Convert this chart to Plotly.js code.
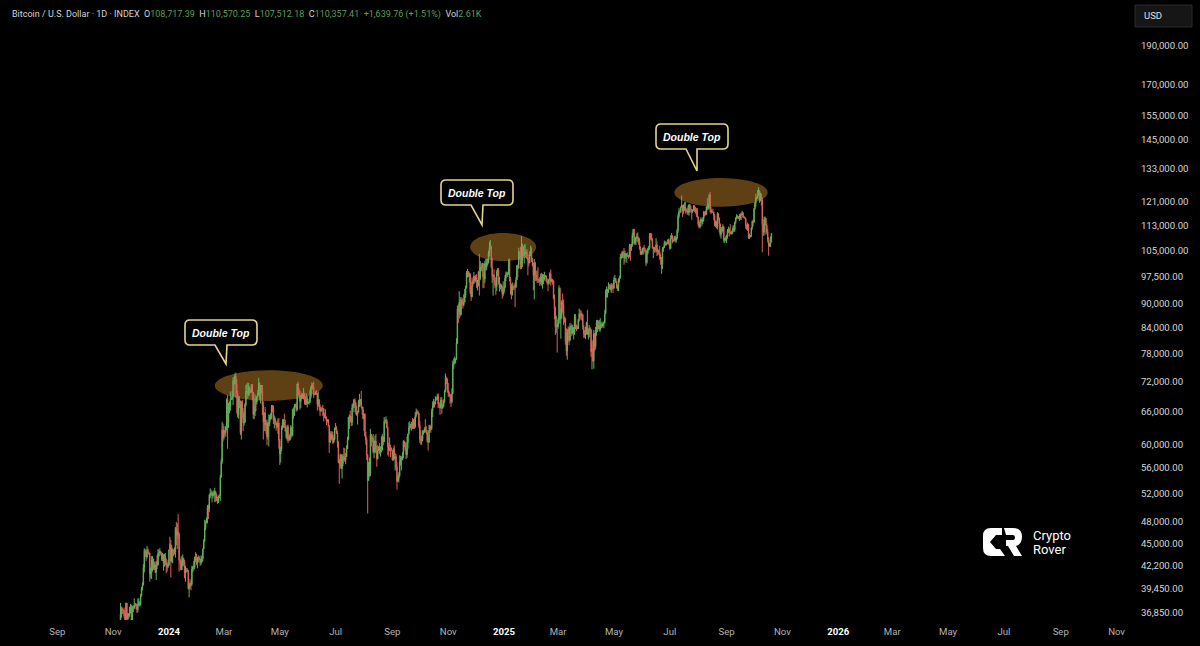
<!DOCTYPE html>
<html>
<head>
<meta charset="utf-8">
<script src="https://cdn.plot.ly/plotly-3.0.1.min.js"></script>
<style>html,body{margin:0;padding:0;background:#000;}#chart{width:1200px;height:646px;}</style>
</head>
<body>
<div id="chart"></div>
<script>
// ---------------- DATA (USD thousands, daily candles, first day 2023-11-08) ----------------
const startDate = '2023-11-08';
const firstOpen = 35.4;
const close = [
// Nov 2023 (8-30)
35.6,36.7,37.3,37.1,37.1,36.5,35.6,37.9,36.2,36.6,36.6,37.4,37.5,35.8,37.4,37.3,37.7,37.8,37.5,37.2,37.8,37.9,37.7,
// Dec 2023
38.7,39.5,39.9,42.0,44.1,43.8,43.3,44.2,43.8,43.8,41.2,41.5,42.9,43.0,41.9,42.3,41.4,42.7,42.3,43.7,43.9,44.0,43.7,43.0,43.6,42.5,43.4,42.6,42.1,42.1,42.3,
// Jan 2024
44.2,44.9,42.8,44.2,44.2,44.0,43.9,47.0,46.1,46.6,46.3,42.9,42.8,41.7,42.5,43.1,42.7,41.3,41.6,41.7,41.6,39.5,39.8,40.1,40.0,41.8,42.1,42.0,43.3,42.9,42.6,
// Feb 2024
43.1,43.2,43.0,42.6,42.7,43.1,44.3,45.3,47.1,47.8,48.3,50.0,49.7,51.8,51.9,52.1,51.7,52.1,51.8,52.3,51.9,51.3,50.7,51.6,51.7,54.5,57.1,62.5,61.2,
// Mar 2024
62.4,62.0,63.1,68.3,63.8,66.1,66.9,68.3,68.5,69.0,72.1,71.5,73.1,71.4,69.5,65.3,68.4,67.6,62.0,67.8,65.5,63.8,64.0,67.2,69.9,69.9,69.5,70.8,70.0,69.7,71.3,
// Apr 2024
69.7,65.4,65.9,68.5,67.8,68.9,69.4,71.6,69.1,70.6,70.0,67.1,64.0,65.7,63.4,63.8,61.3,63.5,63.8,64.9,64.9,66.8,66.4,64.3,64.5,63.8,63.4,63.1,63.8,60.6,
// May 2024
58.3,59.1,62.9,63.9,64.0,63.2,62.3,61.2,63.1,60.8,60.8,61.5,62.9,61.6,66.3,65.2,67.0,67.0,66.3,71.4,70.1,69.1,67.9,68.5,69.3,68.5,69.4,68.3,67.6,68.4,67.5,
// Jun 2024
67.8,67.8,68.8,70.6,71.1,70.8,69.3,69.3,69.6,69.5,67.3,68.2,66.8,66.0,66.2,66.6,66.5,65.2,64.9,64.9,64.1,64.3,63.2,60.3,61.8,60.9,61.6,60.3,60.9,62.7,
// Jul 2024
62.9,62.0,60.2,57.0,56.7,58.2,55.9,56.7,57.9,57.7,57.3,57.9,59.2,60.8,64.8,65.1,64.1,63.9,66.7,67.2,68.2,67.6,65.9,65.4,65.8,67.9,68.0,68.3,66.8,66.2,64.6,
// Aug 2024
65.4,61.5,60.7,58.1,54.0,56.0,55.0,61.7,60.9,61.0,58.7,59.4,60.6,58.7,57.5,58.9,59.5,58.4,59.5,59.0,61.2,60.4,64.1,64.2,64.2,62.9,59.5,59.0,59.4,59.1,58.9,
// Sep 2024
57.3,59.1,57.5,57.9,56.2,53.9,54.2,54.8,57.0,57.6,57.3,58.1,60.5,60.0,59.1,58.2,60.3,61.8,62.9,63.2,63.3,63.6,63.3,64.3,63.1,65.2,65.9,65.8,65.6,63.3,
// Oct 2024
60.8,60.6,60.8,62.1,62.1,62.8,62.2,62.1,60.6,60.3,62.4,63.2,62.8,66.0,67.0,67.6,67.4,68.4,68.4,69.0,67.4,67.4,66.7,68.2,66.6,67.0,67.9,69.9,72.7,72.3,70.2,
// Nov 2024
69.5,69.3,68.7,67.8,69.4,75.6,75.9,76.5,76.7,80.4,88.7,87.9,90.5,87.3,91.1,90.6,89.8,90.5,92.3,94.3,98.4,98.9,97.7,98.0,93.0,91.9,95.9,95.6,97.5,96.4,
// Dec 2024
97.2,95.9,96.0,98.8,97.0,99.9,99.9,101.2,97.4,96.7,101.2,100.0,101.4,101.4,104.3,106.0,106.1,100.0,97.5,97.8,97.2,95.1,94.7,98.7,99.4,95.8,94.2,95.2,93.6,92.6,93.4,
// Jan 2025
94.4,96.9,98.1,98.2,98.3,102.1,96.9,95.0,92.5,94.7,94.6,94.5,94.5,96.5,100.5,99.8,104.5,104.4,101.1,102.0,106.1,103.7,104.0,104.8,104.7,102.6,102.1,101.3,103.7,104.7,102.4,
// Feb 2025
100.6,97.7,101.4,97.9,96.6,96.6,96.5,96.5,96.1,97.4,95.7,97.9,96.6,97.5,97.6,96.1,95.8,95.5,96.6,98.3,96.1,96.6,96.3,91.5,88.7,84.3,84.7,84.4,
// Mar 2025
86.0,94.2,86.1,87.2,90.6,89.9,86.7,86.2,80.7,78.5,82.9,83.7,81.1,84.0,84.3,82.6,84.1,82.7,86.8,84.2,84.0,83.8,86.1,87.5,87.4,86.9,87.2,84.3,82.6,82.3,82.5,
// Apr 2025
85.2,82.5,83.1,83.8,83.5,78.4,79.1,76.3,82.6,79.6,83.4,85.3,83.7,84.5,83.7,84.0,84.9,84.4,85.1,85.2,87.5,93.4,93.7,93.9,94.7,94.6,93.8,95.0,94.3,94.2,
// May 2025
96.5,96.9,95.9,94.3,94.7,96.8,97.0,103.2,102.9,104.6,104.1,102.8,104.2,103.5,103.7,103.5,103.1,106.5,105.6,106.8,109.6,111.7,107.3,107.8,109.0,109.4,108.9,107.8,105.6,103.9,104.6,
// Jun 2025
105.7,105.9,105.4,104.7,101.5,104.3,105.6,105.8,110.3,110.2,108.6,105.9,106.0,105.4,105.6,106.8,104.6,104.9,104.6,103.3,102.1,100.9,105.5,106.0,107.3,106.9,107.1,107.3,108.4,107.1,
// Jul 2025
105.7,108.8,109.6,108.0,108.2,109.2,108.3,108.9,111.3,115.9,117.5,117.4,119.1,119.8,117.7,118.7,119.3,117.9,117.9,117.3,117.4,119.9,118.5,118.3,117.6,117.9,119.4,118.0,117.9,117.8,115.7,
// Aug 2025
113.3,112.5,114.2,115.0,114.1,115.0,117.5,116.7,116.5,119.3,118.7,120.1,123.3,118.4,117.4,117.5,117.4,116.2,112.9,114.3,112.5,116.9,115.4,113.5,110.1,111.8,111.3,112.6,108.4,108.8,108.2,
// Sep 2025
109.3,111.2,111.7,110.7,110.7,110.2,111.2,112.1,111.5,113.9,115.5,116.1,115.9,115.3,115.4,116.8,116.5,117.1,115.7,115.7,115.3,112.7,112.0,113.3,109.0,109.6,109.6,112.2,114.4,114.0,
// Oct 2025 (1-20)
118.6,120.6,122.3,122.4,123.5,124.8,121.4,123.3,121.7,113.2,110.7,115.0,115.3,113.0,110.8,108.2,106.4,107.2,108.71739,110.35741
];
const high = [
35.9,37.9,37.5,37.4,37.2,37.4,36.8,37.9,37.9,36.8,36.8,37.5,37.8,37.7,37.6,37.6,38.4,37.9,37.8,37.6,38.4,38.4,38.1,
38.9,39.7,40.2,42.4,44.4,44.3,44.0,44.7,44.4,44.0,43.8,42.0,43.4,43.4,43.1,42.7,42.4,42.8,43.5,44.3,44.2,44.4,44.0,43.9,43.8,43.6,43.7,43.8,43.1,42.6,42.9,
44.2,45.9,45.5,44.8,44.4,44.2,44.5,47.2,47.9,47.7,49.0,46.5,43.3,43.0,43.4,43.6,43.2,42.9,42.2,41.9,41.9,41.7,40.2,40.6,40.3,42.2,42.2,42.8,43.3,43.9,43.7,
43.3,43.5,43.4,43.1,43.5,43.4,44.4,45.6,48.2,48.1,48.5,50.3,50.4,52.0,52.8,52.6,52.2,52.4,52.5,52.9,52.4,52.0,51.5,51.7,51.9,54.9,57.5,64.0,63.7,
63.2,62.4,63.2,68.5,69.2,67.6,67.9,69.9,68.6,70.0,72.8,72.9,73.6,73.8,72.4,70.0,68.9,68.9,68.1,68.0,68.2,66.6,65.9,67.6,71.2,71.5,71.7,71.6,70.9,70.3,71.4,
71.3,69.7,66.9,69.3,68.7,69.0,70.2,72.7,71.7,71.2,71.2,71.2,67.9,65.8,66.8,64.4,64.4,64.0,65.4,65.3,65.6,67.2,67.2,67.1,65.2,64.8,63.9,64.2,64.6,64.7,
60.9,59.6,63.3,64.5,64.5,65.5,64.4,62.6,63.4,63.5,61.5,61.8,63.4,63.1,66.5,66.7,67.4,67.4,67.7,71.5,71.9,70.6,70.0,69.2,69.6,69.5,70.6,69.6,68.9,69.5,69.0,
67.8,68.4,70.2,71.0,71.7,71.6,71.9,69.5,69.9,70.2,69.6,69.9,68.4,67.3,66.4,66.9,67.2,66.6,65.7,66.4,65.0,64.5,64.5,63.4,62.3,62.2,62.3,62.2,61.2,63.0,
63.8,63.2,62.3,60.5,57.5,58.4,58.3,58.2,58.3,59.4,59.3,58.5,59.8,61.3,64.9,65.4,66.1,65.0,67.4,67.6,68.4,68.5,67.8,67.1,66.1,68.2,69.4,68.3,70.0,66.9,66.8,
65.6,65.6,62.2,61.1,58.3,57.0,57.7,62.7,61.8,61.4,61.8,60.6,61.5,61.8,59.8,59.8,59.6,60.2,59.6,61.4,61.8,61.4,64.9,64.5,65.0,64.5,63.2,60.2,61.2,59.9,59.4,
58.9,59.4,59.8,58.5,58.3,56.9,54.8,55.3,58.1,58.0,57.9,58.6,60.7,60.6,60.4,59.2,61.3,61.8,63.9,64.1,63.6,64.0,64.7,64.5,64.8,65.8,66.5,66.3,66.1,65.6,
64.1,62.4,61.5,62.5,62.4,63.0,64.5,63.2,62.5,61.3,63.4,63.5,63.3,66.5,67.9,68.4,67.9,68.9,68.7,69.4,69.5,67.8,67.5,68.8,68.7,67.5,68.3,70.2,73.6,72.9,72.6,
71.6,69.9,69.4,69.0,70.5,76.4,76.9,77.3,76.9,81.5,89.6,89.9,93.4,91.8,91.8,91.4,91.6,92.6,94.0,94.9,99.0,99.6,98.8,98.6,98.4,94.7,97.2,96.6,98.7,97.5,
97.9,98.1,96.5,99.0,104.0,101.9,100.5,101.4,101.3,98.3,101.9,102.5,102.6,102.6,105.0,107.8,108.3,106.5,102.8,98.1,99.5,97.3,96.4,99.4,99.9,99.9,97.3,95.5,95.2,94.9,96.1,
94.9,97.8,98.9,98.7,98.8,102.5,102.7,97.3,95.4,95.8,94.9,95.4,95.8,97.4,100.7,100.9,105.9,104.9,106.3,109.6,107.2,106.4,106.8,107.1,105.3,105.5,103.2,103.8,104.8,106.5,106.0,
102.8,101.5,102.5,101.7,99.0,99.2,100.1,96.9,97.3,98.3,98.5,98.1,98.1,98.8,97.9,97.7,97.0,96.7,96.8,98.7,99.5,96.9,96.6,96.4,92.5,89.3,87.0,85.1,
86.5,95.0,94.4,88.9,91.0,92.8,91.2,86.8,86.5,83.9,83.6,84.3,84.3,85.2,84.7,85.0,84.7,84.1,87.4,87.4,84.8,84.5,86.2,88.8,88.5,88.3,87.8,87.5,84.6,83.5,84.3,
85.5,88.5,83.9,84.7,84.2,83.8,81.2,80.8,83.5,82.7,84.2,85.9,86.0,85.8,85.9,86.4,85.5,85.1,85.6,85.4,88.5,93.9,94.7,94.0,95.8,95.3,95.3,95.6,95.5,95.2,
97.4,97.9,96.9,96.2,95.2,96.9,97.7,104.0,104.3,104.9,105.0,105.8,105.0,104.3,104.2,104.5,103.7,107.1,107.0,107.1,110.6,111.9,111.8,109.4,109.2,110.4,110.7,109.3,108.9,106.3,104.9,
105.9,105.9,106.8,105.9,105.1,105.3,105.9,106.5,110.5,110.4,110.4,108.8,106.2,106.2,106.0,108.9,107.8,105.6,105.2,106.5,104.0,103.1,106.1,106.3,108.1,108.0,107.8,107.6,108.5,108.8,
107.6,109.8,110.5,109.8,108.4,109.5,109.7,109.2,111.9,116.8,118.9,118.2,119.4,123.2,119.8,120.0,120.8,120.9,118.6,118.9,119.7,120.2,120.1,119.5,118.4,118.3,119.8,119.8,119.2,118.8,118.9,
116.0,114.0,114.8,115.7,115.1,115.7,117.7,117.6,117.9,119.3,122.3,120.3,123.7,124.5,119.2,117.9,118.6,117.6,116.8,114.6,114.5,117.4,117.0,115.6,113.6,112.4,112.6,113.4,112.7,108.9,109.5,
109.9,111.8,112.6,112.2,113.4,110.9,111.4,112.9,113.2,114.3,115.6,116.7,116.3,116.1,116.7,116.9,117.3,117.9,117.4,116.1,115.8,115.4,113.3,113.9,113.4,110.3,109.8,112.3,114.5,114.9,
118.7,121.0,123.9,122.9,125.2,126.2,125.1,124.2,123.8,122.5,113.4,115.8,116.0,115.4,113.6,111.9,109.2,107.4,109.4,110.57025
];
const low = [
35.1,35.5,36.3,36.7,36.7,36.3,34.8,35.4,35.9,35.6,36.2,36.4,36.8,35.6,35.7,36.9,37.3,37.6,37.2,36.8,36.9,37.6,37.5,
37.6,38.6,39.3,39.9,41.4,43.3,42.8,43.1,43.6,43.6,40.3,40.7,40.6,41.5,41.7,41.7,41.3,40.5,41.8,42.2,43.3,43.4,43.6,42.8,42.8,41.6,42.1,42.3,41.3,41.5,41.9,
42.2,44.2,40.8,42.6,42.5,43.4,43.6,43.2,44.8,44.3,45.6,41.5,42.4,41.7,41.7,42.1,42.2,40.7,40.3,41.4,41.5,39.4,38.5,39.5,39.3,39.8,41.4,41.6,41.8,42.7,42.3,
41.9,42.6,42.9,42.2,42.3,42.6,42.8,44.3,45.3,46.8,47.7,47.7,48.3,49.3,51.3,51.6,50.7,51.3,51.6,50.7,50.8,50.9,50.5,50.6,51.3,50.9,54.5,56.7,60.4,
60.8,61.7,61.3,62.4,59.2,62.9,65.6,66.1,68.2,68.2,67.2,68.8,71.3,68.6,65.6,64.8,64.6,66.6,61.6,60.8,64.6,62.3,63.3,63.8,66.9,69.2,68.4,68.9,69.1,69.6,69.6,
68.1,64.6,64.5,65.1,66.0,67.3,68.8,69.1,68.2,67.5,69.6,65.3,60.8,62.3,62.3,61.8,59.8,60.8,59.6,63.2,64.3,64.5,65.8,63.6,62.8,63.4,62.4,62.8,61.8,59.2,
56.5,56.9,58.8,62.6,62.9,62.9,62.2,60.9,60.6,60.2,60.5,60.6,60.8,61.2,61.4,64.6,65.1,66.7,65.9,66.1,69.2,68.9,66.3,66.6,68.5,68.4,68.3,67.3,67.2,67.2,66.7,
67.4,67.3,67.6,68.5,70.4,70.2,68.6,69.1,69.2,69.2,66.1,66.9,66.3,65.1,65.9,66.0,65.1,64.1,64.7,64.5,63.4,63.9,63.2,58.5,60.3,60.7,60.6,60.0,60.4,60.7,
62.5,61.8,59.4,56.8,53.5,56.1,55.8,54.3,56.3,57.2,57.0,56.6,57.8,59.4,60.7,62.7,63.9,63.2,63.3,66.6,65.8,66.6,65.4,65.1,63.5,65.8,66.8,67.1,66.6,65.3,64.5,
62.3,61.3,59.9,57.3,49.1,54.0,54.6,54.7,59.6,60.4,58.4,57.6,58.5,58.4,56.2,57.4,58.8,58.4,57.9,58.6,58.9,59.8,60.4,63.6,63.8,62.8,58.1,57.9,58.8,57.8,58.8,
57.2,57.2,57.4,55.6,55.7,52.6,53.8,53.7,54.6,56.4,55.6,57.3,57.6,59.5,58.7,57.5,57.7,59.2,61.6,62.4,62.8,62.4,62.7,62.7,62.7,62.9,64.8,65.4,65.4,62.9,
60.2,59.9,59.9,60.5,61.7,62.0,62.1,61.8,60.3,58.9,60.3,62.4,62.0,62.5,64.9,66.7,66.7,67.3,68.1,68.1,66.6,66.6,65.3,66.5,65.5,66.5,66.8,67.6,69.7,71.4,69.7,
68.8,68.9,67.5,66.8,67.5,69.4,74.6,75.6,75.8,76.5,80.2,85.2,86.3,86.7,87.1,90.1,88.8,89.4,90.9,91.6,94.1,97.2,97.3,95.8,92.6,90.8,91.8,94.7,95.4,96.2,
95.8,94.3,93.6,94.7,92.2,96.4,99.0,98.8,94.2,94.3,95.7,99.3,99.2,100.6,101.2,103.3,105.3,100.0,95.7,92.2,96.4,94.2,92.4,93.4,97.6,95.2,93.3,94.0,93.3,91.4,92.0,
92.8,94.2,96.2,97.8,97.3,97.9,96.1,92.5,91.2,92.2,93.8,93.7,89.2,94.3,96.5,97.3,99.9,102.3,99.5,99.6,100.1,103.3,101.2,102.8,104.1,102.5,97.8,100.3,101.3,103.3,101.6,
100.3,93.7,91.2,96.2,96.2,95.7,95.7,95.7,94.8,95.3,94.9,94.1,95.3,96.3,97.1,96.0,95.2,93.4,95.2,96.4,94.9,95.8,95.2,91.2,86.1,82.3,82.8,78.2,
83.8,85.0,85.1,81.4,86.3,87.8,84.7,85.3,80.0,77.5,76.6,80.7,79.9,80.8,83.6,82.0,82.5,81.2,82.3,83.7,83.2,83.6,83.8,85.5,86.3,85.9,85.8,83.6,81.6,81.6,81.3,
82.4,82.3,81.2,81.7,82.4,77.2,74.5,76.2,74.6,78.5,78.9,82.1,83.0,83.7,83.1,83.1,83.9,84.0,84.4,83.9,85.1,87.4,91.7,91.7,92.9,93.9,93.6,92.9,93.8,92.9,
94.1,96.3,95.7,94.1,93.5,93.4,95.8,96.9,102.4,102.8,103.4,100.8,101.5,102.6,101.4,103.1,102.6,103.1,102.0,104.9,106.2,109.3,106.8,106.9,106.7,108.6,107.6,106.8,105.3,103.7,103.7,
103.9,103.8,105.0,104.2,100.4,101.1,103.9,105.0,105.3,108.4,108.1,105.6,102.8,104.3,104.5,104.9,103.4,103.6,103.9,102.3,100.8,98.2,99.6,104.7,105.9,106.6,106.5,106.9,107.2,106.7,
105.3,105.6,108.6,107.3,107.8,107.9,107.5,107.5,108.4,110.6,115.3,116.9,117.3,118.9,115.8,116.9,117.9,116.9,117.3,116.5,116.5,116.2,117.3,117.2,114.8,117.1,117.8,117.5,116.9,115.8,115.5,
112.7,112.1,112.0,114.1,112.7,113.4,114.3,115.9,116.3,116.5,118.1,118.2,118.9,117.3,116.8,117.2,117.2,114.7,112.7,112.4,112.0,111.7,114.6,110.7,109.4,108.7,110.4,110.9,107.5,107.4,108.0,
107.3,108.8,110.5,109.4,110.2,110.0,110.1,110.8,110.8,110.9,113.5,114.9,115.3,115.1,114.4,114.8,114.8,116.3,115.5,115.4,115.1,111.9,111.5,111.2,108.7,108.6,109.1,109.2,111.6,112.7,
113.9,118.2,119.3,121.8,122.0,123.1,120.6,121.1,119.6,104.5,109.6,109.7,113.0,110.0,110.2,107.5,103.5,106.3,106.1,107.51218
];

// Axis tick labels
const priceTicks = [36850, 39450, 42200, 45000, 48000, 52000, 56000, 60000, 66000, 72000, 78000, 84000,
                    90000, 97500, 105000, 113000, 121000, 133000, 145000, 155000, 170000, 190000];
const dateTicks = ['2023-09-01','2023-11-01','2024-01-01','2024-03-01','2024-05-01','2024-07-01','2024-09-01',
                   '2024-11-01','2025-01-01','2025-03-01','2025-05-01','2025-07-01','2025-09-01','2025-11-01',
                   '2026-01-01','2026-03-01','2026-05-01','2026-07-01','2026-09-01','2026-11-01'];
const dateTickText = ['Sep','Nov','2024','Mar','May','Jul','Sep','Nov','2025','Mar','May','Jul','Sep','Nov',
                      '2026','Mar','May','Jul','Sep','Nov'];

// Header legend
const symbolTitle = 'Bitcoin / U.S. Dollar · 1D · INDEX';
const headerValues = {O:'108,717.39', H:'110,570.25', L:'107,512.18', C:'110,357.41', chg:'+1,639.76 (+1.51%)', Vol:'2.61K'};

// Double-top zones: [start date, end date, low price, high price]
const zones = [
  ['2024-02-20','2024-06-17', 68000, 74300],
  ['2024-11-25','2025-02-05', 101900, 110500],
  ['2025-07-06','2025-10-16', 119200, 129600]
];
const calloutLabel = 'Double Top';

// ---------------- BUILD ----------------
const UNIT = 1000;
const t0 = Date.UTC(2023, 10, 8);
const dates = close.map((_, i) => new Date(t0 + i * 86400000).toISOString().slice(0, 10));
const C = close.map(v => v * UNIT);
const H = high.map(v => v * UNIT);
const L = low.map(v => v * UNIT);
const O = C.map((v, i) => i === 0 ? firstOpen * UNIT : C[i - 1]);

const UP = '#62b25c', DN = '#dc6358';
const FONT = 'Roboto, "Liberation Sans", Arial, sans-serif';

const trace = {
  type: 'candlestick', x: dates, open: O, high: H, low: L, close: C,
  increasing: {line: {color: UP, width: 1}, fillcolor: UP},
  decreasing: {line: {color: DN, width: 1}, fillcolor: DN},
  whiskerwidth: 0, hoverinfo: 'skip', showlegend: false
};

// plot area geometry (pixels)
const W = 1200, Hh = 646, ML = 0, MR = 75, MT = 0, MB = 26;
const PW = W - ML - MR, PH = Hh - MT - MB;
const px = x => (x - ML) / PW;
const py = y => 1 - (y - MT) / PH;
const P = (x, y) => px(x).toFixed(5) + ',' + py(y).toFixed(5);

// Y axis log range (log10 of price) and date range
const yRange = [4.5572, 5.3362];
const xRange = ['2023-06-30 09:36', '2026-11-10 04:48'];
const xMs = xRange.map(s => Date.parse(s.replace(' ', 'T') + ':00Z'));
const dateToPx = d => (Date.parse(d + 'T00:00:00Z') - xMs[0]) / (xMs[1] - xMs[0]) * PW + ML;
const priceToPx = p => MT + (yRange[1] - Math.log10(p)) / (yRange[1] - yRange[0]) * PH;

function calloutPath(x0, y0, x1, y1, tx0, tx1, tipx, tipy) {
  const r = 5;
  return 'M' + P(x0 + r, y0) + ' L' + P(x1 - r, y0) + ' Q' + P(x1, y0) + ' ' + P(x1, y0 + r) +
    ' L' + P(x1, y1 - r) + ' Q' + P(x1, y1) + ' ' + P(x1 - r, y1) +
    ' L' + P(tx1, y1) + ' L' + P(tipx, tipy) + ' L' + P(tx0, y1) +
    ' L' + P(x0 + r, y1) + ' Q' + P(x0, y1) + ' ' + P(x0, y1 - r) +
    ' L' + P(x0, y0 + r) + ' Q' + P(x0, y0) + ' ' + P(x0 + r, y0) + ' Z';
}
function ellipsePath(cx, cy, rx, ry) {
  // four cubic bezier arcs
  const k = 0.5523;
  return 'M' + P(cx - rx, cy) +
    ' C' + P(cx - rx, cy - k * ry) + ' ' + P(cx - k * rx, cy - ry) + ' ' + P(cx, cy - ry) +
    ' C' + P(cx + k * rx, cy - ry) + ' ' + P(cx + rx, cy - k * ry) + ' ' + P(cx + rx, cy) +
    ' C' + P(cx + rx, cy + k * ry) + ' ' + P(cx + k * rx, cy + ry) + ' ' + P(cx, cy + ry) +
    ' C' + P(cx - k * rx, cy + ry) + ' ' + P(cx - rx, cy + k * ry) + ' ' + P(cx - rx, cy) + ' Z';
}
const callouts = [
  [185, 320, 257, 345, 215, 227, 226, 364],
  [441, 180, 513, 205, 471, 483, 482, 225],
  [656, 124, 728, 149, 686, 697, 697, 171]
];

const shapes = [];
zones.forEach(z => {
  const xa = dateToPx(z[0]), xb = dateToPx(z[1]);
  const ya = priceToPx(z[3]), yb = priceToPx(z[2]);
  shapes.push({
    type: 'path', xref: 'paper', yref: 'paper', layer: 'below',
    path: ellipsePath((xa + xb) / 2, (ya + yb) / 2, (xb - xa) / 2, (yb - ya) / 2),
    fillcolor: '#5e4014', line: {width: 0}
  });
});
callouts.forEach(c => shapes.push({
  type: 'path', xref: 'paper', yref: 'paper', path: calloutPath(...c),
  fillcolor: '#000000', line: {color: '#e4d48a', width: 1.6}
}));
// Crypto Rover logo mark
const logoC = 'M' + P(1002,528) + ' L' + P(991,528) + ' Q' + P(983,528) + ' ' + P(983,536) + ' L' + P(983,548) +
  ' Q' + P(983,556) + ' ' + P(991,556) + ' L' + P(1005,556) + ' L' + P(1000,549) + ' L' + P(996,549) +
  ' L' + P(990,542) + ' L' + P(996,535) + ' L' + P(1002,535) + ' Z';
const logoR = 'M' + P(1004,528) + ' L' + P(1013,528) + ' Q' + P(1022,528) + ' ' + P(1022,537) +
  ' Q' + P(1022,544) + ' ' + P(1016,546) + ' L' + P(1022,556) + ' L' + P(1014,556) + ' L' + P(1008,546) +
  ' L' + P(1006,546) + ' L' + P(1006,540) + ' L' + P(1013,540) + ' Q' + P(1015,540) + ' ' + P(1015,537.5) +
  ' Q' + P(1015,535) + ' ' + P(1013,535) + ' L' + P(1006,535) + ' Z';
shapes.push({type: 'path', xref: 'paper', yref: 'paper', path: logoC, fillcolor: '#ffffff', line: {width: 0}});
shapes.push({type: 'path', xref: 'paper', yref: 'paper', path: logoR, fillcolor: '#ffffff', line: {width: 0}});
// USD box
shapes.push({type: 'rect', xref: 'paper', yref: 'paper', x0: px(1135), x1: px(1192), y0: py(5), y1: py(27),
  fillcolor: '#161616', line: {color: '#2a2a2a', width: 1}});

const G = '#5e9e55';
const nb = '\u00a0\u00a0';
const headerText = symbolTitle + nb +
  'O<span style="color:' + G + '">' + headerValues.O + '</span>' + nb +
  'H<span style="color:' + G + '">' + headerValues.H + '</span>' + nb +
  'L<span style="color:' + G + '">' + headerValues.L + '</span>' + nb +
  'C<span style="color:' + G + '">' + headerValues.C + '</span>' + nb +
  '<span style="color:' + G + '">' + headerValues.chg + '</span>' + nb +
  'Vol<span style="color:' + G + '">' + headerValues.Vol + '</span>';

const annotations = [
  {xref: 'paper', yref: 'paper', x: px(10), y: py(15), xanchor: 'left', yanchor: 'middle', showarrow: false,
   text: headerText, font: {family: FONT, size: 9, color: '#d1d4dc'}},
  {xref: 'paper', yref: 'paper', x: px(1142), y: py(16), xanchor: 'left', yanchor: 'middle', showarrow: false,
   text: 'USD', font: {family: FONT, size: 9.5, color: '#e0e0e0'}},
  {xref: 'paper', yref: 'paper', x: px(1031), y: py(535), xanchor: 'left', yanchor: 'middle', showarrow: false,
   text: 'Crypto', font: {family: FONT, size: 13, color: '#ffffff'}},
  {xref: 'paper', yref: 'paper', x: px(1031), y: py(549), xanchor: 'left', yanchor: 'middle', showarrow: false,
   text: 'Rover', font: {family: FONT, size: 13, color: '#ffffff'}}
];
callouts.forEach(c => annotations.push({
  xref: 'paper', yref: 'paper', x: px((c[0] + c[2]) / 2), y: py((c[1] + c[3]) / 2),
  xanchor: 'center', yanchor: 'middle', showarrow: false,
  text: '<b><i>' + calloutLabel + '</i></b>',
  font: {family: '"Liberation Sans", Arial, sans-serif', size: 10.5, color: '#ffffff'}
}));

const tickText = dateTickText.map(t => /^\d{4}$/.test(t)
  ? '<span style="color:#ffffff"><b>' + t + '</b></span>' : t);

const layout = {
  width: W, height: Hh, paper_bgcolor: '#000000', plot_bgcolor: 'rgba(0,0,0,0)',
  margin: {l: ML, r: MR, t: MT, b: MB, pad: 0}, showlegend: false, dragmode: false,
  xaxis: {
    type: 'date', range: xRange,
    rangeslider: {visible: false}, showgrid: false, zeroline: false, showline: false,
    tickmode: 'array', tickvals: dateTicks, ticktext: tickText,
    ticks: 'outside', ticklen: 2, tickcolor: 'rgba(0,0,0,0)',
    tickfont: {family: FONT, size: 9.6, color: '#b4b4b4'}
  },
  yaxis: {
    type: 'log', side: 'right', range: yRange,
    showgrid: false, zeroline: false, showline: false,
    tickmode: 'array', tickvals: priceTicks, tickformat: ',.2f',
    ticks: 'outside', ticklen: 13, tickcolor: 'rgba(0,0,0,0)',
    tickfont: {family: FONT, size: 9.6, color: '#d6d6d6'}
  },
  shapes: shapes, annotations: annotations
};

Plotly.newPlot('chart', [trace], layout, {displayModeBar: false, staticPlot: true});
</script>
</body>
</html>
